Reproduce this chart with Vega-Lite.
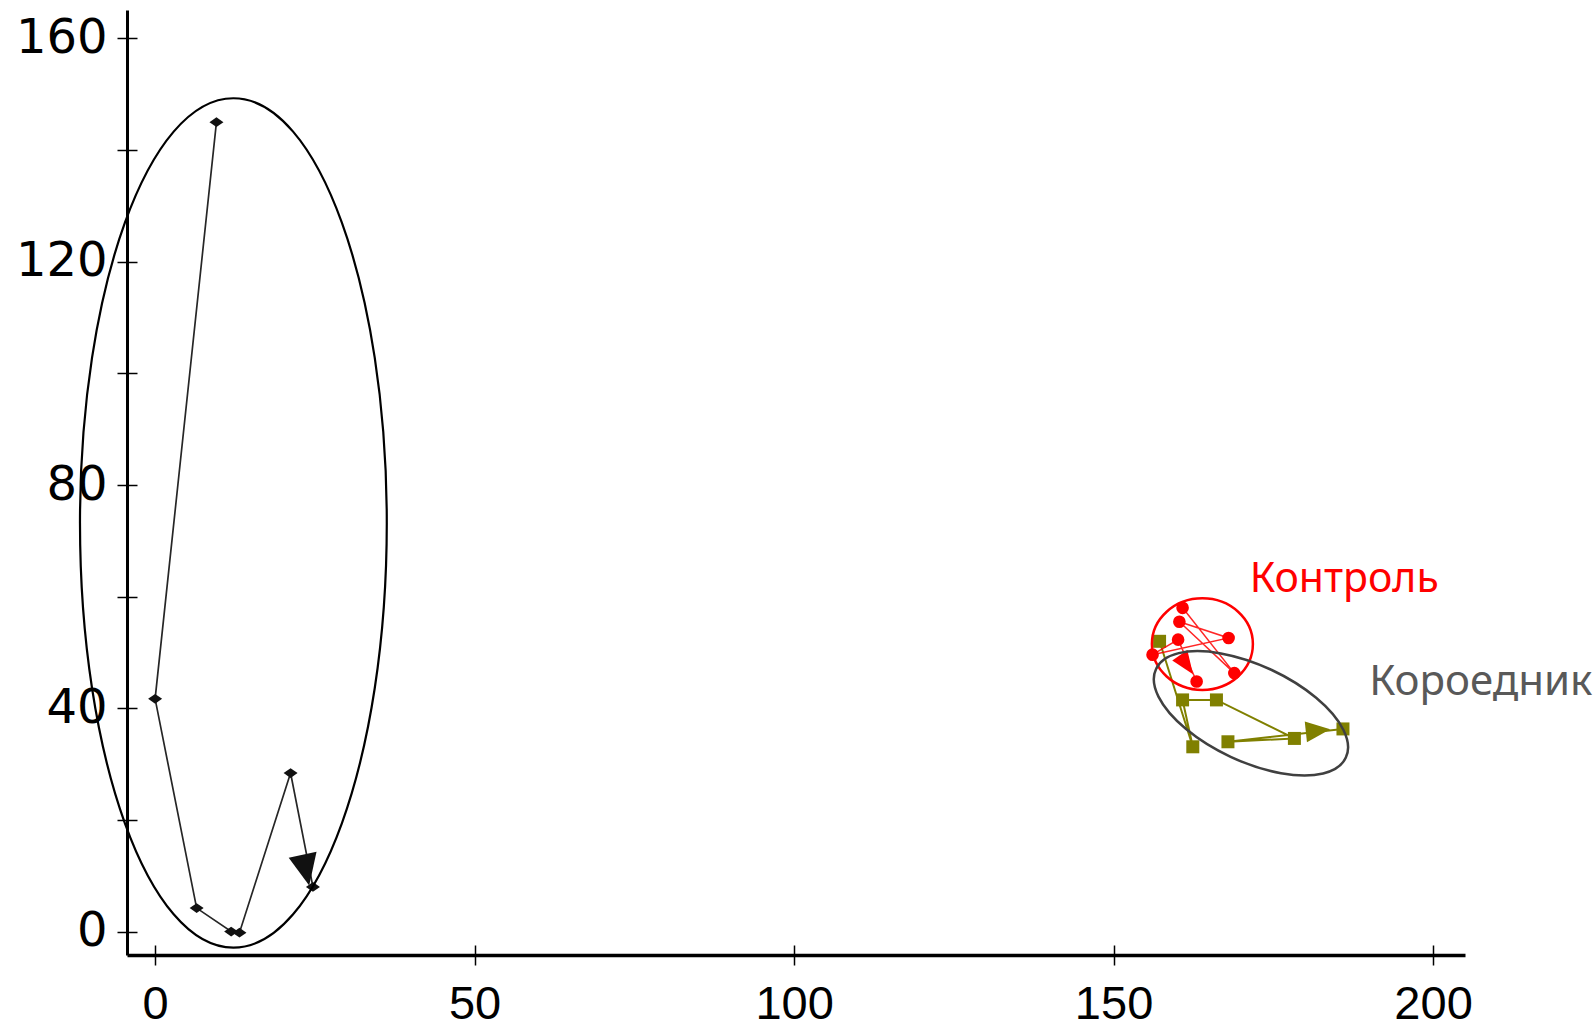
{
  "$schema": "https://vega.github.io/schema/vega-lite/v6.json",
  "width": 1338,
  "height": 945,
  "autosize": {"type": "none"},
  "padding": {"left": 127, "top": 10, "right": 128, "bottom": 74},
  "background": "white",
  "config": {"view": {"stroke": null}},
  "datasets": {
    "traj": [
      {"series": "black", "order": 1, "x": 9.6, "y": 145.0},
      {"series": "black", "order": 2, "x": 0.0, "y": 41.7},
      {"series": "black", "order": 3, "x": 6.5, "y": 4.2},
      {"series": "black", "order": 4, "x": 11.9, "y": 0.0},
      {"series": "black", "order": 5, "x": 13.2, "y": -0.2},
      {"series": "black", "order": 6, "x": 21.2, "y": 28.4},
      {"series": "black", "order": 7, "x": 24.7, "y": 8.0},
      {"series": "olive", "order": 1, "x": 157.2, "y": 52.0},
      {"series": "olive", "order": 2, "x": 162.4, "y": 33.1},
      {"series": "olive", "order": 3, "x": 160.8, "y": 41.5},
      {"series": "olive", "order": 4, "x": 166.1, "y": 41.5},
      {"series": "olive", "order": 5, "x": 178.3, "y": 34.6},
      {"series": "olive", "order": 6, "x": 167.9, "y": 34.0},
      {"series": "olive", "order": 7, "x": 185.9, "y": 36.3},
      {"series": "red", "order": 1, "x": 160.8, "y": 58.0},
      {"series": "red", "order": 2, "x": 168.9, "y": 46.3},
      {"series": "red", "order": 3, "x": 160.3, "y": 55.5},
      {"series": "red", "order": 4, "x": 168.0, "y": 52.6},
      {"series": "red", "order": 5, "x": 156.1, "y": 49.6},
      {"series": "red", "order": 6, "x": 160.1, "y": 52.3},
      {"series": "red", "order": 7, "x": 163.0, "y": 44.8}
    ],
    "arrows": [
      {"series": "black", "x": 23.6, "y": 11.0},
      {"series": "olive", "x": 182.0, "y": 36.0},
      {"series": "red", "x": 161.4, "y": 47.8}
    ],
    "ellipses": [
      {"name": "black", "x": 12.25, "y": 73.2},
      {"name": "red", "x": 163.9, "y": 51.5},
      {"name": "gray", "x": 171.5, "y": 39.1}
    ],
    "labels": [
      {"name": "red", "text": "Контроль", "x": 171.3, "y": 60.9},
      {"name": "gray", "text": "Короедник", "x": 190.0, "y": 42.4}
    ]
  },
  "layer": [
    {
      "encoding": {
        "x": {
          "field": "x", "type": "quantitative",
          "scale": {"domain": [-4.4, 205], "nice": false, "zero": false},
          "axis": {
            "orient": "bottom", "title": null, "values": [0, 50, 100, 150, 200],
            "grid": false, "ticks": false, "domain": true, "domainColor": "black", "domainWidth": 3.5,
            "labelFont": "Liberation Sans", "labelFontSize": 47, "labelColor": "black",
            "labelBaseline": "alphabetic", "labelPadding": 63, "labelFlush": false, "labelOverlap": false
          }
        },
        "y": {
          "field": "y", "type": "quantitative",
          "scale": {"domain": [-4.2, 165.1], "nice": false, "zero": false},
          "axis": {
            "orient": "left", "title": null, "values": [0, 40, 80, 120, 160],
            "grid": false, "ticks": false, "domain": true, "domainColor": "black", "domainWidth": 3,
            "labelFont": "DejaVu Sans", "labelFontSize": 48, "labelColor": "black",
            "labelPadding": 20, "labelFlush": false, "labelOverlap": false
          }
        }
      },
      "layer": [
        {
          "data": {"name": "traj"},
          "transform": [{"filter": "datum.series === 'black'"}],
          "mark": {"type": "line", "color": "#262626", "strokeWidth": 1.7},
          "encoding": {"order": {"field": "order", "type": "quantitative"}}
        },
        {
          "data": {"name": "traj"},
          "transform": [{"filter": "datum.series === 'black'"}],
          "mark": {"type": "point", "filled": true, "color": "#111111", "opacity": 1, "shape": "M -1 0 L 0 -0.7 L 1 0 L 0 0.7 Z", "size": 196}
        },
        {
          "data": {"name": "arrows"},
          "transform": [{"filter": "datum.series === 'black'"}],
          "mark": {"type": "point", "filled": true, "color": "#111111", "opacity": 1, "shape": "M 1 0 L -1 -0.9 L -1 0.9 Z", "size": 1000, "angle": 78}
        },
        {
          "data": {"name": "traj"},
          "transform": [{"filter": "datum.series === 'olive'"}],
          "mark": {"type": "line", "color": "#808000", "strokeWidth": 2},
          "encoding": {"order": {"field": "order", "type": "quantitative"}}
        },
        {
          "data": {"name": "traj"},
          "transform": [{"filter": "datum.series === 'olive'"}],
          "mark": {"type": "point", "filled": true, "color": "#808000", "opacity": 1, "shape": "square", "size": 169}
        },
        {
          "data": {"name": "arrows"},
          "transform": [{"filter": "datum.series === 'olive'"}],
          "mark": {"type": "point", "filled": true, "color": "#808000", "opacity": 1, "shape": "M 1 0 L -1 -0.85 L -1 0.85 Z", "size": 600, "angle": 354}
        },
        {
          "data": {"name": "traj"},
          "transform": [{"filter": "datum.series === 'red'"}],
          "mark": {"type": "line", "color": "#ff0000", "strokeWidth": 1.5, "opacity": 0.85},
          "encoding": {"order": {"field": "order", "type": "quantitative"}}
        },
        {
          "data": {"name": "traj"},
          "transform": [{"filter": "datum.series === 'red'"}],
          "mark": {"type": "point", "filled": true, "color": "#ff0000", "opacity": 1, "shape": "circle", "size": 160}
        },
        {
          "data": {"name": "arrows"},
          "transform": [{"filter": "datum.series === 'red'"}],
          "mark": {"type": "point", "filled": true, "color": "#ff0000", "opacity": 1, "shape": "M 1 0 L -1 -0.8 L -1 0.8 Z", "size": 530, "angle": 55}
        },
        {
          "data": {"name": "ellipses"},
          "transform": [{"filter": "datum.name === 'black'"}],
          "mark": {"type": "point", "filled": false, "color": "#000000", "opacity": 1, "strokeWidth": 2.2, "shape": "M 0 -1 A 0.3612 1 0 1 1 0 1 A 0.3612 1 0 1 1 0 -1 Z", "size": 721480}
        },
        {
          "data": {"name": "ellipses"},
          "transform": [{"filter": "datum.name === 'red'"}],
          "mark": {"type": "point", "filled": false, "color": "#ff0000", "opacity": 1, "strokeWidth": 2.5, "shape": "M -1 0 A 1 0.907 0 1 1 1 0 A 1 0.907 0 1 1 -1 0 Z", "size": 10201}
        },
        {
          "data": {"name": "ellipses"},
          "transform": [{"filter": "datum.name === 'gray'"}],
          "mark": {"type": "point", "filled": false, "color": "#404040", "opacity": 1, "strokeWidth": 2.5, "shape": "M -0.9063 -0.4226 A 1 0.4565 25 1 1 0.9063 0.4226 A 1 0.4565 25 1 1 -0.9063 -0.4226 Z", "size": 43848}
        },
        {
          "data": {"name": "labels"},
          "transform": [{"filter": "datum.name === 'red'"}],
          "mark": {"type": "text", "align": "left", "baseline": "alphabetic", "font": "Noto Sans", "fontSize": 41, "color": "#ff0000"},
          "encoding": {"text": {"field": "text"}}
        },
        {
          "data": {"name": "labels"},
          "transform": [{"filter": "datum.name === 'gray'"}],
          "mark": {"type": "text", "align": "left", "baseline": "alphabetic", "font": "Noto Sans", "fontSize": 42, "color": "#595959"},
          "encoding": {"text": {"field": "text"}}
        }
      ]
    },
    {
      "data": {"name": "ellipses"},
      "mark": {"type": "point", "opacity": 0},
      "encoding": {
        "x": {
          "field": "x", "type": "quantitative",
          "scale": {"domain": [-4.4, 205], "nice": false, "zero": false},
          "axis": {
            "orient": "bottom", "title": null, "values": [0, 50, 100, 150, 200],
            "grid": false, "domain": false, "labels": false, "ticks": true,
            "tickSize": 20, "tickWidth": 1.5, "tickColor": "black", "offset": -10
          }
        },
        "y": {
          "field": "y", "type": "quantitative",
          "scale": {"domain": [-4.2, 165.1], "nice": false, "zero": false},
          "axis": {
            "orient": "left", "title": null, "values": [0, 20, 40, 60, 80, 100, 120, 140, 160],
            "grid": false, "domain": false, "labels": false, "ticks": true,
            "tickSize": 20, "tickWidth": 1.5, "tickColor": "black", "offset": -10
          }
        }
      }
    }
  ],
  "resolve": {"axis": {"x": "independent", "y": "independent"}}
}
